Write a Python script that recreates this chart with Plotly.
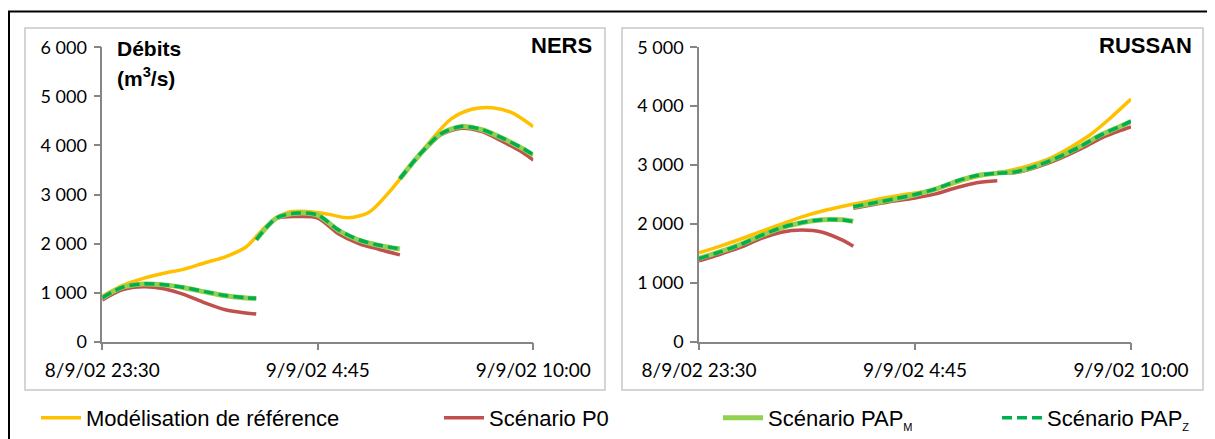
import plotly.graph_objects as go

# Débits simulés (m3/s), NERS et RUSSAN, nuit du 8 au 9/9/2002

heures_ref = ["2002-09-08 23:30", "2002-09-09 00:00", "2002-09-09 00:30", "2002-09-09 01:00",
              "2002-09-09 01:30", "2002-09-09 02:00", "2002-09-09 02:30", "2002-09-09 03:00",
              "2002-09-09 03:30", "2002-09-09 04:00", "2002-09-09 04:30", "2002-09-09 05:00",
              "2002-09-09 05:30", "2002-09-09 06:00", "2002-09-09 06:30", "2002-09-09 07:00",
              "2002-09-09 07:30", "2002-09-09 08:00", "2002-09-09 08:30", "2002-09-09 09:00",
              "2002-09-09 09:30", "2002-09-09 10:00"]

# les scénarios sont calculés par tronçons (3 prévisions successives)
heures_t1 = ["2002-09-08 23:30", "2002-09-09 00:00", "2002-09-09 00:30", "2002-09-09 01:00",
             "2002-09-09 01:30", "2002-09-09 02:00", "2002-09-09 02:30", "2002-09-09 03:00",
             "2002-09-09 03:15"]
heures_t2 = ["2002-09-09 03:15", "2002-09-09 03:45", "2002-09-09 04:15", "2002-09-09 04:45",
             "2002-09-09 05:15", "2002-09-09 05:45", "2002-09-09 06:15", "2002-09-09 06:45"]
heures_t3 = ["2002-09-09 06:45", "2002-09-09 07:15", "2002-09-09 07:45", "2002-09-09 08:15",
             "2002-09-09 08:45", "2002-09-09 09:15", "2002-09-09 09:45", "2002-09-09 10:00"]

ners_ref = [930, 1150, 1290, 1394, 1480, 1610, 1730, 1930, 2360, 2630, 2655,
            2600, 2525, 2640, 3060, 3580, 4100, 4540, 4738, 4770, 4660, 4383]
ners_p0 = [[850, 1060, 1120, 1080, 960, 790, 650, 585, 565],
           [2080, 2510, 2550, 2520, 2200, 2000, 1880, 1770],
           [3320, 3820, 4220, 4350, 4280, 4080, 3850, 3700]]
ners_papm = [[895, 1110, 1175, 1158, 1100, 1015, 935, 890, 882],
             [2080, 2525, 2620, 2575, 2270, 2070, 1960, 1888],
             [3320, 3830, 4235, 4385, 4320, 4145, 3930, 3800]]
ners_papz = [[898, 1112, 1178, 1162, 1105, 1020, 940, 895, 888],
             [2080, 2525, 2622, 2580, 2280, 2078, 1965, 1892],
             [3322, 3832, 4238, 4388, 4325, 4150, 3938, 3810]]

russan_ref = [1510, 1620, 1740, 1870, 1995, 2120, 2220, 2300, 2370, 2440, 2500,
              2550, 2645, 2755, 2840, 2900, 2985, 3105, 3290, 3510, 3800, 4120]
russan_p0 = [[1375, 1480, 1600, 1750, 1860, 1895, 1860, 1720, 1620],
             [2265, 2330, 2390, 2440, 2510, 2615, 2700, 2735],
             [2860, 2880, 2975, 3105, 3265, 3450, 3590, 3650]]
russan_papm = [[1415, 1525, 1650, 1800, 1935, 2020, 2070, 2070, 2045],
               [2290, 2355, 2420, 2495, 2590, 2720, 2820, 2860],
               [2865, 2895, 3000, 3140, 3310, 3505, 3660, 3740]]
russan_papz = [[1410, 1520, 1648, 1800, 1938, 2025, 2072, 2068, 2040],
               [2292, 2358, 2425, 2500, 2595, 2725, 2822, 2862],
               [2860, 2892, 2998, 3138, 3308, 3505, 3662, 3745]]

x_ticks = ["2002-09-08 23:30", "2002-09-09 04:45", "2002-09-09 10:00"]
x_labels = ["8/9/02 23:30", "9/9/02 4:45", "9/9/02 10:00"]
y_ticks_ners = [0, 1000, 2000, 3000, 4000, 5000, 6000]
y_labels_ners = ["0", "1 000", "2 000", "3 000", "4 000", "5 000", "6 000"]
y_ticks_russan = [0, 1000, 2000, 3000, 4000, 5000]
y_labels_russan = ["0", "1 000", "2 000", "3 000", "4 000", "5 000"]

petit = "<sub><span style='font-size:11px'>%s</span></sub>"
noms = ["Modélisation de référence", "Scénario P0",
        "Scénario PAP" + petit % "M", "Scénario PAP" + petit % "Z"]
couleurs = ["#FFC000", "#C0504D", "#92D050", "#00B050"]
largeurs = [3.5, 3.5, 5, 3.5]

# la page html garde une marge de 8 px autour de la figure
W, H = 1207, 431
DX, DY = 8, 8


def px_x(v):
    return (v - DX) / W


def px_y(v):
    return 1 - (v - DY) / H


def troncons(valeurs):
    # met bout à bout les 3 tronçons avec un trou entre chacun
    xs, ys = [], []
    for h, v in zip([heures_t1, heures_t2, heures_t3], valeurs):
        xs += h + [None]
        ys += v + [None]
    return xs, ys


fig = go.Figure()

panneaux = [("x", "y", ners_ref, ners_p0, ners_papm, ners_papz, True),
            ("x2", "y2", russan_ref, russan_p0, russan_papm, russan_papz, False)]

for xa, ya, ref, p0, papm, papz, leg in panneaux:
    fig.add_trace(go.Scatter(x=heures_ref, y=ref, xaxis=xa, yaxis=ya, mode="lines",
                             line=dict(color=couleurs[0], width=largeurs[0], shape="spline", smoothing=0.8),
                             name=noms[0], showlegend=leg, legend="legend"))
    for k, serie in enumerate([p0, papm, papz]):
        xs, ys = troncons(serie)
        fig.add_trace(go.Scatter(x=xs, y=ys, xaxis=xa, yaxis=ya, mode="lines", connectgaps=False,
                                 line=dict(color=couleurs[k + 1], width=largeurs[k + 1], shape="spline",
                                           smoothing=0.8, dash="10px,5px" if k == 2 else "solid"),
                                 name=noms[k + 1], showlegend=leg,
                                 legend=["legend2", "legend3", "legend4"][k]))

axe = dict(showgrid=False, zeroline=False, showline=True, linecolor="#868686", linewidth=1.5,
           ticks="outside", tickcolor="#868686", ticklen=7, tickwidth=1.5)
police_x = dict(family="Lato", size=19, color="#000000")
police_y = dict(family="Lato", size=18, color="#000000")

y_bas = px_y(341.7)
y_haut = px_y(47.3)

fig.update_layout(
    width=W, height=H,
    margin=dict(l=0, r=0, t=0, b=0, autoexpand=False),
    paper_bgcolor="white", plot_bgcolor="white",
    xaxis=dict(axe, domain=[px_x(102.3), px_x(533.3)], type="date", tickfont=police_x,
               range=[x_ticks[0], x_ticks[-1]], tickvals=x_ticks, ticktext=x_labels,
               ticklabelstandoff=4),
    yaxis=dict(axe, domain=[y_bas, y_haut], range=[0, 6000], tickfont=police_y,
               tickvals=y_ticks_ners, ticktext=y_labels_ners, ticklabelstandoff=3),
    xaxis2=dict(axe, domain=[px_x(699), px_x(1131)], type="date", anchor="y2", tickfont=police_x,
                range=[x_ticks[0], x_ticks[-1]], tickvals=x_ticks, ticktext=x_labels,
                ticklabelstandoff=4),
    yaxis2=dict(axe, domain=[y_bas, y_haut], range=[0, 5000], anchor="x2", tickfont=police_y,
                tickvals=y_ticks_russan, ticktext=y_labels_russan, ticklabelstandoff=3),
)

# légendes séparées pour placer chaque entrée comme dans l'original
pos_leg = [("legend", 36), ("legend2", 439), ("legend3", 718), ("legend4", 997)]
for nom_leg, px in pos_leg:
    fig.update_layout({nom_leg: dict(x=px_x(px), y=px_y(418), xanchor="left", yanchor="middle",
                                     bgcolor="rgba(0,0,0,0)", borderwidth=0, itemwidth=40,
                                     font=dict(family="Liberation Sans", size=22, color="#000000"))})

# cadres des deux graphiques + bord noir de la figure
gris = "#C8C8C8"
fig.add_shape(type="rect", xref="paper", yref="paper", x0=px_x(25), x1=px_x(605),
              y0=px_y(390), y1=px_y(28), line=dict(color=gris, width=1.5))
fig.add_shape(type="rect", xref="paper", yref="paper", x0=px_x(622), x1=px_x(1203),
              y0=px_y(390), y1=px_y(28), line=dict(color=gris, width=1.5))
fig.add_shape(type="path", xref="paper", yref="paper",
              path=f"M {px_x(9)} 0 L {px_x(9)} {px_y(11.5)} L 1 {px_y(11.5)}",
              line=dict(color="black", width=2))

titre = dict(family="Liberation Sans", size=21, color="#000000", weight="bold")
fig.add_annotation(text="Débits", x=px_x(115), y=px_y(49), xref="paper", yref="paper",
                   xanchor="left", yanchor="middle", showarrow=False, font=titre)
fig.add_annotation(text="(m<sup>3</sup>/s)", x=px_x(115), y=px_y(77), xref="paper", yref="paper",
                   xanchor="left", yanchor="middle", showarrow=False, font=titre)
fig.add_annotation(text="NERS", x=px_x(594), y=px_y(46), xref="paper", yref="paper",
                   xanchor="right", yanchor="middle", showarrow=False, font=dict(titre, size=22))
fig.add_annotation(text="RUSSAN", x=px_x(1194), y=px_y(46), xref="paper", yref="paper",
                   xanchor="right", yanchor="middle", showarrow=False, font=dict(titre, size=22))

fig.write_html("out.html")
